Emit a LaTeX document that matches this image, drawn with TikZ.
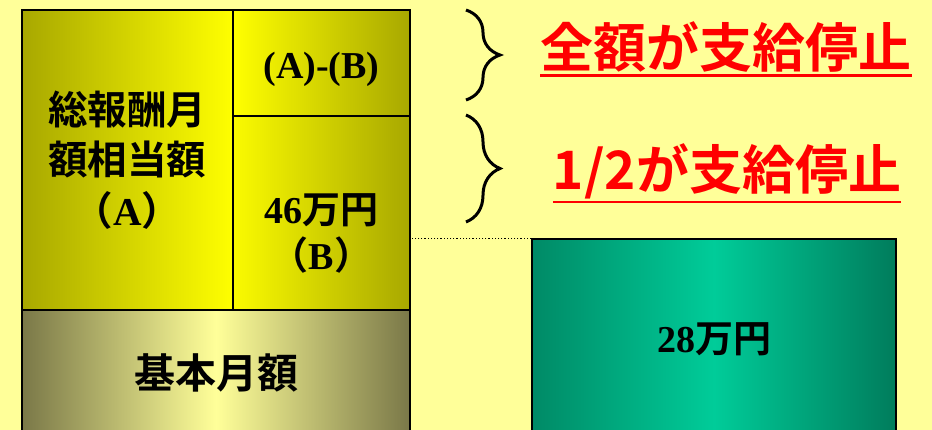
\documentclass[tikz,border=0pt]{standalone}
\usepackage{fontspec}
\setmainfont{Liberation Serif}
\newfontfamily\jp{Noto Sans CJK JP}[BoldFont={Noto Sans CJK JP Bold}]
\usetikzlibrary{decorations.pathreplacing}

\definecolor{paper}{HTML}{FFFF99}
\definecolor{ydark}{HTML}{A8A800}
\definecolor{ylight}{HTML}{FFFF00}
\definecolor{bdark}{HTML}{7A7848}
\definecolor{blight}{HTML}{FFFF99}
\definecolor{gdark}{HTML}{008A66}
\definecolor{glight}{HTML}{00CC99}
\definecolor{stopred}{HTML}{FF0000}

\begin{document}
\begin{tikzpicture}[x=1pt,y=-1pt
	,cell/.style={
		draw
		,line width=1.5pt
		,inner sep=0
	}
	,txt/.style={
		inner sep=0
		,align=center
		,font=\bfseries\fontsize{38}{50}\selectfont
	}
	,red label/.style={
		inner sep=0
		,text=stopred
		,font=\jp\bfseries\fontsize{53}{60}\selectfont
	}
	,brace/.style={
		decorate
		,decoration={brace,amplitude=34pt}
		,line width=3pt
	}
]

\path[use as bounding box, fill=paper] (0,0) rectangle (932,430);
\clip (0,0) rectangle (932,430);

\node[cell, txt, minimum width=211pt, minimum height=300pt
	,left color=ydark, right color=ylight
	,font=\bfseries\fontsize{39.5}{50.5}\selectfont](a) at(127.5,160)
	{{\jp 総報酬月}\\{\jp 額相当額}\\{\jp （}A{\jp ）}};
\node[cell, minimum width=177pt, minimum height=106pt
	,left color=ylight, right color=ydark](ab) at(321.5,63) {};
\node[cell, minimum width=177pt, minimum height=194pt
	,left color=ylight!95!ydark, right color=ydark](b) at(321.5,213) {};
\node[cell, txt, minimum width=388pt, minimum height=126pt
	,left color=bdark, right color=bdark, middle color=blight
	,font=\jp\bfseries\fontsize{41}{50}\selectfont](base) at(216,373) {基本月額};
\node[cell, txt, minimum width=364pt, minimum height=200pt
	,left color=gdark, right color=gdark!90!black, middle color=glight](g) at(714,339)
	{28{\jp 万円}};

\node[txt](abT) at([yshift=-6pt]ab.center) {(A)-(B)};
\node[txt, font=\bfseries\fontsize{38}{46}\selectfont](bT) at([yshift=-20pt]b.center)
	{46{\jp 万円}\\{\jp （}B{\jp ）}};

\draw[dotted, line width=1.2pt] (g.north west) -- (g.north west -| b.east);

\coordinate(u1) at(466,10);
\coordinate(u2) at(466,100);
\coordinate(v1) at(466,115);
\coordinate(v2) at(466,222);
\foreach \u/\v in {u1/u2,v1/v2}{
	\draw[brace] (\u) -- (\v);
}

\node[red label](full) at(726,47) {全額が支給停止};
\node[red label](half) at(727,171) {1/2が支給停止};
\foreach \n in {full,half}{
	\draw[stopred, line width=2.5pt] ([yshift=-3pt]\n.south west) -- ([yshift=-3pt]\n.south east);
}

\end{tikzpicture}
\end{document}
